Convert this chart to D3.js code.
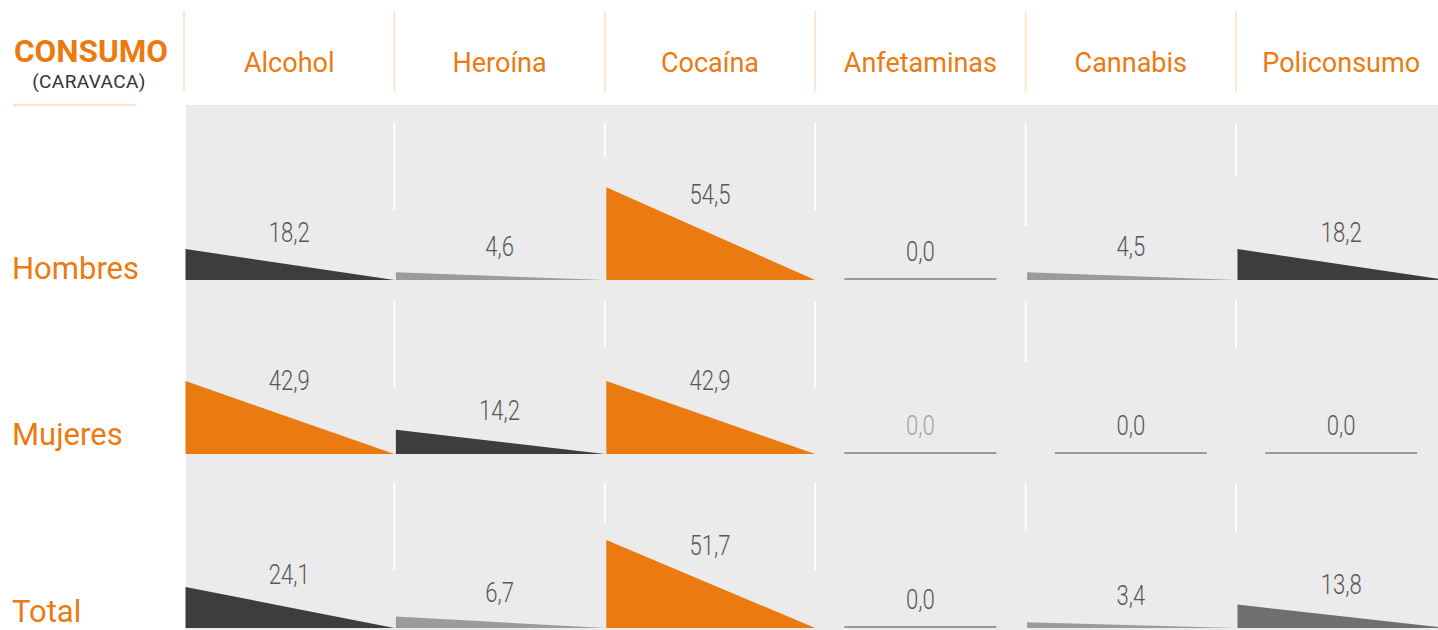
<!DOCTYPE html>
<html><head><meta charset="utf-8">
<script src="https://cdn.jsdelivr.net/npm/d3@7"></script>
<style>html,body{margin:0;padding:0;background:#fff;overflow:hidden;} svg{display:block;}</style>
</head><body>
<script>
// ---------- DATA ----------
const substances = ["Alcohol", "Heroína", "Cocaína", "Anfetaminas", "Cannabis", "Policonsumo"];
const groups = ["Hombres", "Mujeres", "Total"];
const hombres = [18.2, 4.6, 54.5, 0.0, 4.5, 18.2];
const mujeres = [42.9, 14.2, 42.9, 0.0, 0.0, 0.0];
const total   = [24.1, 6.7, 51.7, 0.0, 3.4, 13.8];
const titleText = "CONSUMO";
const subtitleText = "(CARAVACA)";

// ---------- LAYOUT / STYLE ----------
const W = 1438, H = 630;
const ORANGE = "#eb7a11", DARK = "#3d3d3b", MID = "#6f6f6d", LIGHT = "#9b9b9b";
const PANEL = "#ebebeb", HEADLINE = "#fde6cf", LABEL = "#58585a";
const series = { Hombres: hombres, Mujeres: mujeres, Total: total };
// decorative white guide lines (distance above baseline): start and end per inner boundary
const guideTop = { Hombres: 157, Mujeres: 153, Total: 145 };
const guideEnd = { Hombres: [70, 123, 70, 54, 104], Mujeres: [66, 107, 66, 92, 105], Total: [58, 105, 58, 97, 95] };
const rowLabelDy = { Hombres: -1, Mujeres: -9, Total: -6 };
const muted = new Set(["Mujeres|Anfetaminas"]);

const svg = d3.select("body").append("svg").attr("width", W).attr("height", H);

const x = d3.scaleBand().domain(substances).range([184, 1446.4]);
const y = d3.scaleBand().domain(groups).range([106, 628]);
const h = d3.scaleLinear().domain([0, 100]).range([0, 170]);
const base = g => y(g) + y.bandwidth();

// panel
svg.append("rect").attr("x", 186).attr("y", 105).attr("width", W - 186).attr("height", H - 105).attr("fill", PANEL);

// header separators
svg.selectAll("line.hsep").data(substances).join("line")
  .attr("x1", d => x(d)).attr("x2", d => x(d)).attr("y1", 11).attr("y2", 92)
  .attr("stroke", HEADLINE).attr("stroke-width", 2);

// header labels
svg.selectAll("text.head").data(substances).join("text")
  .attr("x", d => x(d) + x.bandwidth() / 2).attr("y", 72)
  .attr("text-anchor", "middle").attr("fill", ORANGE)
  .style("font-family", "Roboto, 'Open Sans', sans-serif").style("font-size", "27px")
  .text(d => d);

// title
svg.append("text").attr("x", 91).attr("y", 62).attr("text-anchor", "middle").attr("fill", ORANGE)
  .style("font-family", "Roboto, sans-serif").style("font-weight", 700).style("font-size", "31.5px")
  .text(titleText);
svg.append("text").attr("x", 89).attr("y", 88).attr("text-anchor", "middle").attr("fill", "#333")
  .style("font-family", "Roboto, sans-serif").style("font-size", "19px").style("letter-spacing", "0.4px")
  .text(subtitleText);
svg.append("line").attr("x1", 13).attr("x2", 136).attr("y1", 105).attr("y2", 105)
  .attr("stroke", HEADLINE).attr("stroke-width", 2.5);

// row labels
svg.selectAll("text.row").data(groups).join("text")
  .attr("x", 12).attr("y", d => base(d) + rowLabelDy[d])
  .attr("fill", ORANGE)
  .style("font-family", "Roboto, sans-serif").style("font-size", "31px")
  .text(d => d);

// colour by rank
function colourFor(vals, v) {
  if (v <= 0) return LIGHT;
  const distinct = Array.from(new Set(vals.filter(d => d > 0))).sort((a, b) => b - a);
  const r = distinct.indexOf(v);
  if (r === 0) return ORANGE;
  if (r === 1) return DARK;
  if (r === 2 && v >= 10) return MID;
  return LIGHT;
}

groups.forEach(g => {
  const vals = series[g];
  const b = base(g);
  const cells = substances.map((s, i) => ({ s, v: vals[i], i }));
  const G = svg.append("g");

  // white guides
  G.selectAll("line.guide").data(substances.slice(1)).join("line")
    .attr("x1", d => x(d)).attr("x2", d => x(d))
    .attr("y1", b - guideTop[g]).attr("y2", (d, i) => b - guideEnd[g][i])
    .attr("stroke", "#fff").attr("stroke-width", 2);

  // triangles
  G.selectAll("path.tri").data(cells.filter(c => c.v > 0)).join("path")
    .attr("d", c => {
      const x0 = x(c.s) + 1.5, x1 = x(c.s) + x.bandwidth();
      return `M${x0},${b}L${x0},${b - h(c.v)}L${x1},${b}Z`;
    })
    .attr("fill", c => colourFor(vals, c.v));

  // zero lines
  G.selectAll("line.zero").data(cells.filter(c => c.v === 0)).join("line")
    .attr("x1", c => x(c.s) + x.bandwidth() / 2 - 76).attr("x2", c => x(c.s) + x.bandwidth() / 2 + 76)
    .attr("y1", b - 1).attr("y2", b - 1)
    .attr("stroke", "#999").attr("stroke-width", 2);

  // value labels
  G.selectAll("text.val").data(cells).join("text")
    .attr("transform", c => `translate(${x(c.s) + x.bandwidth() / 2},${b - (19 + 0.62 * h(c.v))}) scale(0.82,1)`)
    .attr("text-anchor", "middle")
    .attr("fill", c => muted.has(g + "|" + c.s) ? "#a3a3a3" : LABEL)
    .style("font-family", "Roboto, sans-serif").style("font-weight", 300).style("font-size", "27px")
    .text(c => d3.format(".1f")(c.v).replace(".", ","));
});
</script>
</body></html>
